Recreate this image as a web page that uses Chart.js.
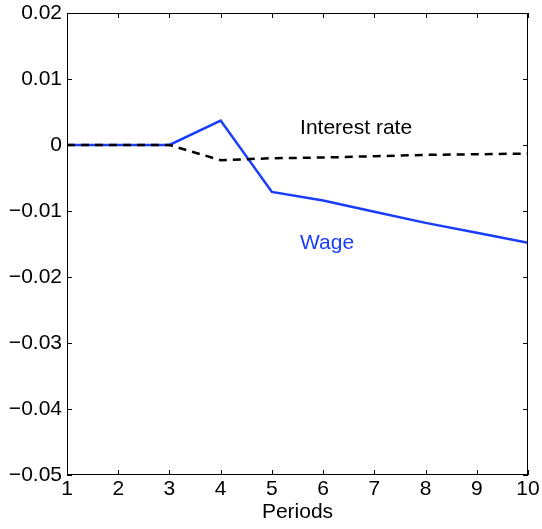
<!DOCTYPE html>
<html>
<head>
<meta charset="utf-8">
<script src="https://cdn.jsdelivr.net/npm/chart.js@4.4.1/dist/chart.umd.min.js"></script>
<style>
	html, body { margin: 0; padding: 0; background: #fff; }
	#wrap { width: 542px; height: 529px; }
</style>
</head>
<body>
<div id="wrap"><canvas id="chart"></canvas></div>
<script>
const periods = [1, 2, 3, 4, 5, 6, 7, 8, 9, 10];
const wage = [0, 0, 0, 0.0037, -0.0071, -0.0084, -0.0101, -0.0118, -0.0133, -0.0148];
const interest_rate = [0, 0, 0, -0.0023, -0.0020, -0.0019, -0.0017, -0.0015, -0.0014, -0.0013];
const y_ticks = [0.02, 0.01, 0, -0.01, -0.02, -0.03, -0.04, -0.05];

const font_family = "'Liberation Sans', Arial, Helvetica, sans-serif";
const font_size = 21;
const blue = "#1a3cff";

function to_points(values) {
	return periods.map((p, i) => ({ x: p, y: values[i] }));
}

function format_tick(value) {
	if (Math.abs(value) < 1e-9) return "0";
	const s = Math.abs(value).toFixed(2);
	return value < 0 ? "\u2212" + s : s;
}

// box round the plot with inward tick marks, like matlab
const box_plugin = {
	id: "box",
	afterDraw(chart) {
		const ctx = chart.ctx;
		const area = chart.chartArea;
		const xs = chart.scales.x;
		const ys = chart.scales.y;
		const len = 5;
		ctx.save();
		ctx.strokeStyle = "#000";
		ctx.lineWidth = 1;
		ctx.strokeRect(area.left + 0.5, area.top + 0.5, area.right - area.left - 1, area.bottom - area.top - 1);
		ctx.beginPath();
		periods.forEach(p => {
			const px = Math.round(xs.getPixelForValue(p)) + 0.5;
			ctx.moveTo(px, area.bottom);
			ctx.lineTo(px, area.bottom - len);
			ctx.moveTo(px, area.top);
			ctx.lineTo(px, area.top + len);
		});
		y_ticks.forEach(v => {
			const py = Math.round(ys.getPixelForValue(v)) + 0.5;
			ctx.moveTo(area.left, py);
			ctx.lineTo(area.left + len, py);
			ctx.moveTo(area.right, py);
			ctx.lineTo(area.right - len, py);
		});
		ctx.stroke();
		ctx.restore();
	}
};

// text labels placed in data units
const label_plugin = {
	id: "labels",
	afterDatasetsDraw(chart) {
		const ctx = chart.ctx;
		const xs = chart.scales.x;
		const ys = chart.scales.y;
		ctx.save();
		ctx.font = font_size + "px " + font_family;
		ctx.textAlign = "left";
		ctx.textBaseline = "middle";
		ctx.fillStyle = "#000";
		ctx.fillText("Interest rate", xs.getPixelForValue(5.55), ys.getPixelForValue(0.0026));
		ctx.fillStyle = blue;
		ctx.fillText("Wage", xs.getPixelForValue(5.55), ys.getPixelForValue(-0.0149));
		ctx.restore();
	}
};

const data = {
	datasets: [
		{
			label: "Interest rate",
			data: to_points(interest_rate),
			borderColor: "#000",
			borderWidth: 2.5,
			borderDash: [8, 6],
			pointRadius: 0,
			tension: 0,
			fill: false
		},
		{
			label: "Wage",
			data: to_points(wage),
			borderColor: blue,
			borderWidth: 2.5,
			pointRadius: 0,
			tension: 0,
			fill: false
		}
	]
};

const options = {
	responsive: false,
	animation: false,
	layout: {
		padding: { top: 13, right: 14, left: 0, bottom: 0 }
	},
	plugins: {
		legend: { display: false },
		tooltip: { enabled: false }
	},
	scales: {
		x: {
			type: "linear",
			min: 1,
			max: 10,
			afterFit: scale => {
				scale.height = 54;
				scale.paddingLeft = 0;
				scale.paddingRight = 0;
			},
			afterBuildTicks: scale => { scale.ticks = periods.map(v => ({ value: v })); },
			grid: { display: false, drawTicks: false },
			border: { display: false },
			ticks: {
				padding: 2,
				color: "#000",
				maxRotation: 0,
				font: { family: font_family, size: font_size }
			},
			title: {
				display: true,
				text: "Periods",
				color: "#000",
				padding: { top: 0, bottom: 4 },
				font: { family: font_family, size: font_size }
			}
		},
		y: {
			min: -0.05,
			max: 0.02,
			afterFit: scale => {
				scale.width = 67;
				scale.paddingTop = 0;
				scale.paddingBottom = 0;
			},
			afterBuildTicks: scale => { scale.ticks = y_ticks.map(v => ({ value: v })); },
			grid: { display: false, drawTicks: false },
			border: { display: false },
			ticks: {
				padding: 5,
				color: "#000",
				callback: value => format_tick(value),
				font: { family: font_family, size: font_size }
			}
		}
	}
};

const canvas = document.getElementById("chart");
canvas.width = 542;
canvas.height = 529;

new Chart(canvas, {
	type: "line",
	data: data,
	options: options,
	plugins: [box_plugin, label_plugin]
});
</script>
</body>
</html>
